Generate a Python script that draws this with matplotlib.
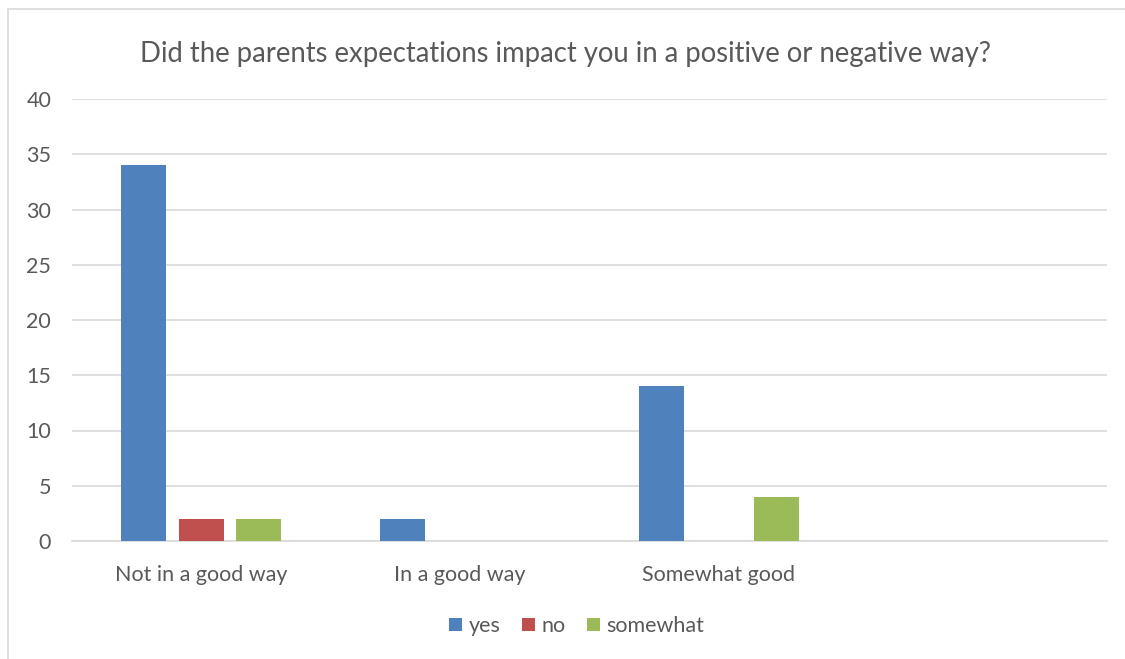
import matplotlib

matplotlib.use("Agg")
import matplotlib.pyplot as plt
import numpy as np
from matplotlib.patches import Rectangle

categories = ["Not in a good way", "In a good way", "Somewhat good", ""]
series_names = ["yes", "no", "somewhat"]
yes_values = [34, 2, 14, 0]
no_values = [2, 0, 0, 0]
somewhat_values = [2, 0, 4, 0]
y_ticks = [0, 5, 10, 15, 20, 25, 30, 35, 40]

colors = ["#4F81BD", "#C0504D", "#9BBB59"]
text_color = "#595959"
grid_color = "#D9D9D9"

plt.rcParams["font.family"] = ["Lato", "DejaVu Sans"]

fig = plt.figure(figsize=(11.25, 6.59), dpi=100)
# chart frame, running off the right and bottom edges
fig.patches.append(Rectangle((8 / 1125, -0.05), 1.2, 1 - 9 / 659 + 0.05,
                             transform=fig.transFigure, fill=False,
                             edgecolor="#D9D9D9", linewidth=1.2))

ax = fig.add_axes([72 / 1125, 1 - 541 / 659, (1107 - 72) / 1125, (541 - 99) / 659])

x = np.arange(len(categories))
width = 0.174
step = 0.222
for i, (name, values) in enumerate(zip(series_names, [yes_values, no_values, somewhat_values])):
    ax.bar(x + (i - 1) * step, values, width=width, color=colors[i], label=name, zorder=3)

ax.set_xlim(-0.5, len(categories) - 0.5)
ax.set_ylim(0, 40)
ax.set_yticks(y_ticks)
ax.set_xticks(x)
ax.set_xticklabels(categories)
ax.tick_params(axis="both", length=0, labelsize=15.5, colors=text_color)
ax.tick_params(axis="x", pad=17)
ax.tick_params(axis="y", pad=15)
ax.grid(axis="y", color=grid_color, linewidth=1.2, zorder=0)
for side in ["top", "right", "left"]:
    ax.spines[side].set_visible(False)
ax.spines["bottom"].set_color(grid_color)
ax.spines["bottom"].set_linewidth(1.2)

fig.text(565 / 1125, 1 - 54 / 659, "Did the parents expectations impact you in a positive or negative way?",
         ha="center", va="center", fontsize=19.8, color=text_color)

fig.legend(loc="center", bbox_to_anchor=(577 / 1125, 1 - 626 / 659), ncol=3, frameon=False,
           fontsize=15.5, labelcolor=text_color, handlelength=0.6, handleheight=0.6,
           handletextpad=0.3, columnspacing=1.0)

fig.savefig("out.png", dpi=100)
